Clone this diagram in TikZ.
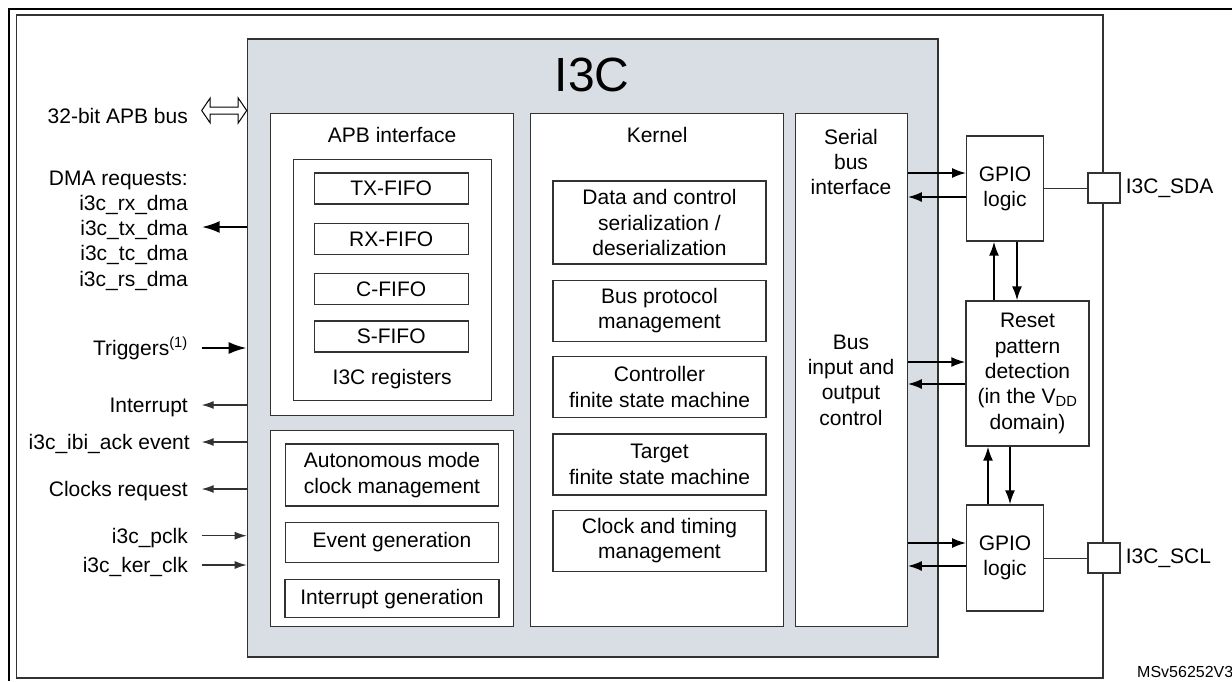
\documentclass[tikz,border=0pt]{standalone}
\usepackage{fontspec}
\setmainfont{Liberation Sans}
\usetikzlibrary{arrows.meta, positioning}

\definecolor{chipgray}{RGB}{217,222,229}
\definecolor{linegray}{RGB}{50,50,50}

\tikzset{
  panel/.style={draw=linegray, line width=1.3pt, fill=white, inner sep=0pt, anchor=north west},
  block/.style={draw=linegray, line width=1.3pt, fill=white, align=center, inner sep=0pt},
  kblock/.style={block, minimum width=213pt, minimum height=61pt},
  fifo/.style={block, minimum width=154pt, minimum height=31pt},
  paneltitle/.style={inner sep=0pt},
  sig/.style={anchor=east, inner sep=0pt, text height=15pt, text depth=0pt},
  thinarr/.style={draw=linegray, line width=1.1pt, -{Latex[length=12pt,width=8pt]}},
  boldarr/.style={line width=2.4pt, -{Latex[length=18pt,width=12pt]}},
  link/.style={line width=1.8pt, -{Latex[length=14pt,width=10pt]}},
}

\begin{document}
\begin{tikzpicture}[x=1pt, y=-1pt, font=\fontsize{21}{25.3}\selectfont]
\useasboundingbox (0,0) rectangle (1232,681);

% outer frame
\draw[line width=2pt] (8.7,681) -- (8.7,9) -- (1232,9);
\draw[draw=linegray, line width=1.2pt] (16.6,15) rectangle (1103,678);

% I3C block
\node[panel, fill=chipgray, line width=1.5pt, minimum width=690.3pt, minimum height=618pt] (i3c) at (246.7,38) {};
\node[font=\fontsize{48}{48}\selectfont] (i3ctitle) at (592,75) {I3C};

% APB interface
\node[panel, minimum width=243pt, minimum height=302pt] (apb) at (270,113) {};
\node[paneltitle, below=14pt of apb.north] (apbtitle) {APB interface};
\node[panel, minimum width=198pt, minimum height=241pt] (regs) at (292.6,159) {};
\node[fifo] (txfifo) at (391.2,188.5) {TX-FIFO};
\node[fifo, below=18pt of txfifo] (rxfifo) {RX-FIFO};
\node[fifo, below=18pt of rxfifo] (cfifo) {C-FIFO};
\node[fifo, below=15pt of cfifo] (sfifo) {S-FIFO};
\node[anchor=base] (regstitle) at ([yshift=17pt]regs.south) {I3C registers};

% mode, event and interrupt blocks
\node[panel, minimum width=243pt, minimum height=196pt] (misc) at (270,430) {};
\node[block, minimum width=213pt, minimum height=62pt] (automode) at (392,475) {Autonomous mode\\clock management};
\node[block, minimum width=213pt, minimum height=40pt, below=15pt of automode] (eventgen) {Event generation};
\node[block, minimum width=214pt, minimum height=38pt, below=16pt of eventgen] (irqgen) {Interrupt generation};

% kernel
\node[panel, minimum width=253pt, minimum height=513pt] (kernel) at (530,113) {};
\node[paneltitle, below=14pt of kernel.north] (kerneltitle) {Kernel};
\node[kblock, minimum height=83pt] (serdes) at (659.5,222.5) {Data and control\\serialization /\\deserialization};
\node[kblock, below=15pt of serdes] (protocol) {Bus protocol\\management};
\node[kblock, below=14pt of protocol] (ctrlfsm) {Controller\\finite state machine};
\node[kblock, below=15pt of ctrlfsm] (tgtfsm) {Target\\finite state machine};
\node[kblock, below=14pt of tgtfsm] (clkmgmt) {Clock and timing\\management};

% serial bus column
\node[panel, minimum width=111.5pt, minimum height=513pt] (sbi) at (795,113) {};
\node[align=center] (sbitop) at (851,162) {Serial\\bus\\interface};
\node[align=center] (sbiio) at (851,380) {Bus\\input and\\output\\control};

% GPIO and pads
\node[block, minimum width=76.5pt, minimum height=105pt] (gpiosda) at (1005,188.5) {GPIO\\logic};
\node[block, minimum width=123pt, minimum height=145pt] (reset) at (1027.5,373.5) {Reset\\pattern\\detection\\(in the V\textsubscript{DD}\\domain)};
\node[block, minimum width=76.5pt, minimum height=106pt] (gpioscl) at (1005,558) {GPIO\\logic};
\node[block, minimum width=32pt, minimum height=30pt] (sdapad) at (1104,188) {};
\node[block, minimum width=32pt, minimum height=30pt] (sclpad) at (1104,558) {};
\node[anchor=west, inner sep=0pt] (sdalabel) at ([xshift=5pt]sdapad.east) {I3C\_SDA};
\node[anchor=west, inner sep=0pt] (scllabel) at ([xshift=5pt]sclpad.east) {I3C\_SCL};
\draw[draw=linegray, line width=1pt] (gpiosda.east |- sdapad) -- (sdapad.west);
\draw[draw=linegray, line width=1pt] (gpioscl.east |- sclpad) -- (sclpad.west);

% bus links
\path ([yshift=15.5pt]gpiosda.west) coordinate (sdain) ([yshift=-8.5pt]gpiosda.west) coordinate (sdaout);
\draw[link] (sbi.east |- sdain) -- (sdain);
\draw[link] (sdaout) -- (sbi.east |- sdaout);
\path ([yshift=11.5pt]reset.west) coordinate (rstin) ([yshift=-10.5pt]reset.west) coordinate (rstout);
\draw[link] (sbi.east |- rstin) -- (rstin);
\draw[link] (rstout) -- (sbi.east |- rstout);
\path ([yshift=15pt]gpioscl.west) coordinate (sclin) ([yshift=-8pt]gpioscl.west) coordinate (sclout);
\draw[link] (sbi.east |- sclin) -- (sclin);
\draw[link] (sclout) -- (sbi.east |- sclout);

\path ([xshift=-11pt]gpiosda.south) coordinate (sdaup) ([xshift=12pt]gpiosda.south) coordinate (sdadown);
\draw[link] (sdaup |- reset.north) -- (sdaup);
\draw[link] (sdadown) -- (sdadown |- reset.north);
\path ([xshift=-17pt]gpioscl.north) coordinate (sclup) ([xshift=5pt]gpioscl.north) coordinate (scldown);
\draw[link] (sclup) -- (sclup |- reset.south);
\draw[link] (scldown |- reset.south) -- (scldown);

% external signals
\node[sig] (apbbus) at (188,116) {32-bit APB bus};
\coordinate (apbtip) at ([xshift=13.7pt, yshift=5.5pt]apbbus.east);
\draw[line width=1pt, fill=white] (apbtip) -- ++(8.5,-12.5) -- ++(0,9) -- ++(28,0) -- ++(0,-9) -- ++(8.5,12.5)
  -- ++(-8.5,12.5) -- ++(0,-9) -- ++(-28,0) -- ++(0,9) -- cycle;

\node[anchor=east, align=right, inner sep=0pt] (dma) at (188,230.5) {DMA requests:\\i3c\_rx\_dma\\i3c\_tx\_dma\\i3c\_tc\_dma\\i3c\_rs\_dma};
\coordinate (dmatip) at ([xshift=13.7pt, yshift=3.5pt]dma.east);
\draw[boldarr] (dmatip -| i3c.west) -- (dmatip);

\node[sig] (trig) at (188,348) {Triggers\textsuperscript{(1)}};
\draw[boldarr] ([xshift=13.7pt]trig.east) -- (trig.east -| i3c.west);

\node[sig] (irq) at (188,405) {Interrupt};
\node[sig] (ibiack) at (190,442) {i3c\_ibi\_ack event};
\node[sig] (clkreq) at (188,489) {Clocks request};
\node[sig] (pclk) at (188,535.7) {i3c\_pclk};
\node[sig] (kerclk) at (188,565) {i3c\_ker\_clk};
\draw[thinarr] (irq.east -| i3c.west) -- ([xshift=13.7pt]irq.east);
\draw[thinarr] (ibiack.east -| i3c.west) -- ([xshift=11.7pt]ibiack.east);
\draw[thinarr] (clkreq.east -| i3c.west) -- ([xshift=13.7pt]clkreq.east);
\draw[thinarr] ([xshift=13.7pt]pclk.east) -- (pclk.east -| i3c.west);
\draw[thinarr] ([xshift=13.7pt]kerclk.east) -- (kerclk.east -| i3c.west);

\node[anchor=base west, inner sep=0pt, font=\fontsize{16}{16}\selectfont] (docref) at (1137,677) {MSv56252V3};
\end{tikzpicture}
\end{document}
